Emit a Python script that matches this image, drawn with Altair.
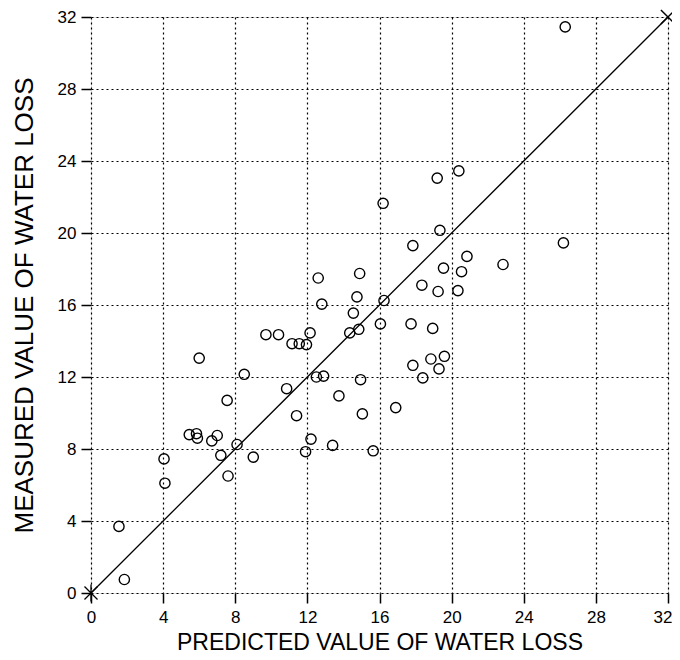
import altair as alt
import pandas as pd

# Predicted (x) and measured (y) water loss
predicted = [26.3, 20.4, 19.2, 16.2, 19.35, 17.85, 26.2, 20.85, 22.85, 19.55,
             20.55, 18.35, 19.25, 20.35, 16.25, 16.05, 17.75, 18.95, 19.6, 18.85,
             17.85, 19.3, 18.4, 16.9, 15.65, 14.9, 12.6, 14.75, 12.8, 14.55,
             12.15, 14.35, 14.85, 11.95, 9.7, 10.4, 11.15, 11.55, 6.0, 8.5,
             12.5, 12.9, 14.95, 10.85, 13.75, 7.55, 11.4, 15.05, 5.45, 5.85,
             5.9, 7.0, 6.7, 12.2, 8.1, 13.4, 11.9, 4.05, 7.2, 9.0,
             7.6, 4.1, 1.55, 1.85]
measured = [31.45, 23.45, 23.05, 21.65, 20.15, 19.3, 19.45, 18.7, 18.25, 18.05,
            17.85, 17.1, 16.75, 16.8, 16.25, 14.95, 14.95, 14.7, 13.15, 13.0,
            12.65, 12.45, 11.95, 10.3, 7.9, 17.75, 17.5, 16.45, 16.05, 15.55,
            14.45, 14.45, 14.65, 13.8, 14.35, 14.35, 13.85, 13.85, 13.05, 12.15,
            12.0, 12.05, 11.85, 11.35, 10.95, 10.7, 9.85, 9.95, 8.8, 8.85,
            8.6, 8.75, 8.45, 8.55, 8.25, 8.2, 7.85, 7.45, 7.65, 7.55,
            6.5, 6.1, 3.7, 0.75]

line_x = [0, 32]
line_y = [0, 32]
tick_values = [0, 4, 8, 12, 16, 20, 24, 28, 32]

pts = pd.DataFrame({"pred": predicted, "meas": measured})
diag = pd.DataFrame({"pred": line_x, "meas": line_y})

FONT = "Liberation Sans"

xscale = alt.Scale(domain=[0, 32], nice=False, zero=False)
yscale = alt.Scale(domain=[0, 32], nice=False, zero=False)

xaxis = alt.Axis(values=tick_values, title="PREDICTED VALUE OF WATER LOSS",
                 grid=True, gridDash=[2, 3], gridColor="black", gridWidth=1.2,
                 gridOpacity=1, domain=False, ticks=True, tickSize=10,
                 tickColor="black", tickWidth=1.5, labelPadding=6,
                 labelFlush=False,
                 labelAlign={"condition": {"test": "datum.value == 32", "value": "right"},
                             "value": "center"},
                 labelOffset={"condition": {"test": "datum.value == 32", "value": 4},
                              "value": 0},
                 labelFont=FONT, labelFontSize=17, labelColor="black",
                 titleFont=FONT, titleFontSize=23, titleFontWeight="normal",
                 titleColor="black", titlePadding=6)
yaxis = alt.Axis(values=tick_values, title="MEASURED VALUE OF WATER LOSS",
                 grid=True, gridDash=[2, 3], gridColor="black", gridWidth=1.2,
                 gridOpacity=1, domain=False, ticks=True, tickSize=10,
                 tickColor="black", tickWidth=1.5, labelPadding=5,
                 labelFlush=False,
                 labelFont=FONT, labelFontSize=17, labelColor="black",
                 titleFont=FONT, titleFontSize=26, titleFontWeight="normal",
                 titleColor="black", titlePadding=20)

points = alt.Chart(pts).mark_point(shape="circle", filled=False, color="black",
                                   strokeWidth=1.4, size=105, opacity=1).encode(
    x=alt.X("pred:Q", scale=xscale, axis=xaxis),
    y=alt.Y("meas:Q", scale=yscale, axis=yaxis),
)

line = alt.Chart(diag).mark_line(color="black", strokeWidth=1.3).encode(
    x=alt.X("pred:Q", scale=xscale),
    y=alt.Y("meas:Q", scale=yscale),
)

start = alt.Chart(diag.iloc[[0]]).mark_point(
    shape="M-1,-1L1,1M-1,1L1,-1M0,-1.3L0,1.3", filled=False, color="black",
    strokeWidth=1.3, size=170, opacity=1).encode(
    x=alt.X("pred:Q", scale=xscale),
    y=alt.Y("meas:Q", scale=yscale),
)
end = alt.Chart(diag.iloc[[1]]).mark_point(
    shape="M-1,-1L1,1M-1,1L1,-1", filled=False, color="black",
    strokeWidth=1.5, size=200, opacity=1).encode(
    x=alt.X("pred:Q", scale=xscale),
    y=alt.Y("meas:Q", scale=yscale),
)

chart = alt.layer(line, points, start, end).properties(
    width=577, height=576,
    autosize=alt.AutoSizeParams(type="none"),
    padding={"left": 83, "top": 9, "right": 4, "bottom": 63},
).configure_view(stroke="black", strokeWidth=3.5).configure(background="white")

chart.save("out.html", embed_options={"renderer": "svg", "actions": False})
